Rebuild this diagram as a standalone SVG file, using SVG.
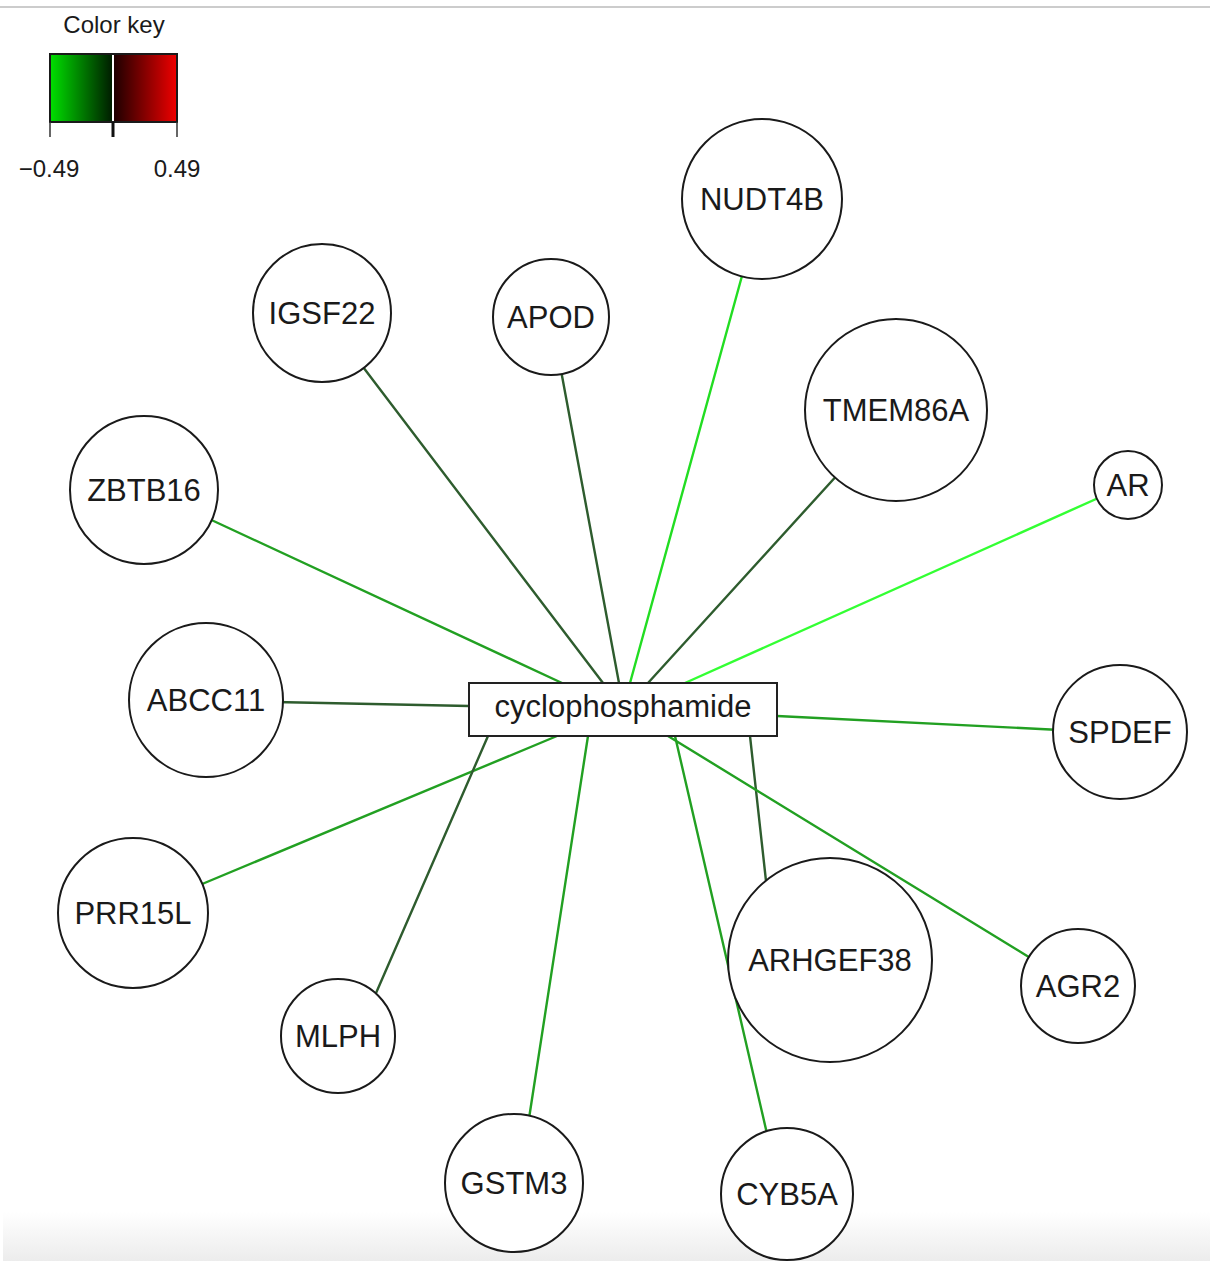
<svg xmlns="http://www.w3.org/2000/svg" width="1210" height="1261" viewBox="0 0 1210 1261">
<defs>
<linearGradient id="gk" x1="0" y1="0" x2="1" y2="0">
<stop offset="0" stop-color="#00e000"/>
<stop offset="1" stop-color="#001a00"/>
</linearGradient>
<linearGradient id="rk" x1="0" y1="0" x2="1" y2="0">
<stop offset="0" stop-color="#1a0000"/>
<stop offset="1" stop-color="#f00000"/>
</linearGradient>
<linearGradient id="bot" x1="0" y1="0" x2="0" y2="1">
<stop offset="0" stop-color="#ffffff"/>
<stop offset="1" stop-color="#ececec"/>
</linearGradient>
<style>
.n circle{fill:#fff;stroke:#1a1a1a;stroke-width:2}
.n text,.t{font-family:"Liberation Sans",Arial,sans-serif;font-size:31px;fill:#1a1a1a;text-anchor:middle}
.e line{stroke-width:2.4;stroke-linecap:round}
.dk{stroke:#2e5c2e}
.md{stroke:#22a022}
.br{stroke:#22dd22}
.vb{stroke:#33ff33}
.k{font-family:"Liberation Sans",Arial,sans-serif;font-size:24px;fill:#1a1a1a;text-anchor:middle}
</style>
</defs>
<rect width="1210" height="1261" fill="#fff"/>
<rect x="3" y="1212" width="1207" height="49" fill="url(#bot)"/>
<line x1="0" y1="7" x2="1210" y2="7" stroke="#cccccc" stroke-width="2"/>

<g id="colorkey">
<text class="k" x="114" y="33">Color key</text>
<rect x="50" y="54" width="63" height="68" fill="url(#gk)"/>
<rect x="113" y="54" width="64" height="68" fill="url(#rk)"/>
<line x1="113" y1="54" x2="113" y2="122" stroke="#ffffff" stroke-width="2"/>
<rect x="50" y="54" width="127" height="68" fill="none" stroke="#1a1a1a" stroke-width="2"/>
<line x1="50" y1="122" x2="50" y2="137" stroke="#333" stroke-width="1.5"/>
<line x1="113" y1="122" x2="113" y2="137" stroke="#111" stroke-width="3"/>
<line x1="177" y1="122" x2="177" y2="137" stroke="#333" stroke-width="1.5"/>
<text class="k" x="49" y="177">−0.49</text>
<text class="k" x="177" y="177">0.49</text>
</g>

<g id="edges" class="e">
<line class="br" x1="630" y1="683" x2="745" y2="265"/>
<line class="dk" x1="603" y1="683" x2="360" y2="363"/>
<line class="dk" x1="619" y1="683" x2="560" y2="365"/>
<line class="dk" stroke="#2a502a" x1="648" y1="683" x2="840" y2="472"/>
<line class="vb" x1="685" y1="683" x2="1105" y2="495"/>
<line class="md" x1="562" y1="683" x2="205" y2="517"/>
<line class="dk" stroke="#224422" x1="469" y1="706" x2="275" y2="702"/>
<line class="md" x1="777" y1="716" x2="1060" y2="730"/>
<line class="md" x1="557" y1="736" x2="195" y2="887"/>
<line class="dk" x1="488" y1="736" x2="373" y2="1000"/>
<line class="md" x1="588" y1="736" x2="528" y2="1125"/>
<line class="md" x1="675" y1="736" x2="768" y2="1138"/>
<line class="dk" x1="750" y1="736" x2="767" y2="890"/>
<line class="md" x1="668" y1="736" x2="1032" y2="959"/>
</g>

<g id="cyclophosphamide">
<rect x="469" y="683" width="308" height="53" fill="#fff" stroke="#222" stroke-width="2"/>
<text class="t" x="623" y="717" font-size="30">cyclophosphamide</text>
</g>

<g id="NUDT4B" class="n"><circle cx="762" cy="199" r="80"/><text x="762" y="210">NUDT4B</text></g>
<g id="IGSF22" class="n"><circle cx="322" cy="313" r="69"/><text x="322" y="324">IGSF22</text></g>
<g id="APOD" class="n"><circle cx="551" cy="317" r="58"/><text x="551" y="328">APOD</text></g>
<g id="TMEM86A" class="n"><circle cx="896" cy="410" r="91"/><text x="896" y="421">TMEM86A</text></g>
<g id="AR" class="n"><circle cx="1128" cy="485" r="34"/><text x="1128" y="496">AR</text></g>
<g id="ZBTB16" class="n"><circle cx="144" cy="490" r="74"/><text x="144" y="501">ZBTB16</text></g>
<g id="ABCC11" class="n"><circle cx="206" cy="700" r="77"/><text x="206" y="711">ABCC11</text></g>
<g id="SPDEF" class="n"><circle cx="1120" cy="732" r="67"/><text x="1120" y="743">SPDEF</text></g>
<g id="PRR15L" class="n"><circle cx="133" cy="913" r="75"/><text x="133" y="924">PRR15L</text></g>
<g id="MLPH" class="n"><circle cx="338" cy="1036" r="57"/><text x="338" y="1047">MLPH</text></g>
<g id="ARHGEF38" class="n"><circle cx="830" cy="960" r="102"/><text x="830" y="971">ARHGEF38</text></g>
<g id="AGR2" class="n"><circle cx="1078" cy="986" r="57"/><text x="1078" y="997">AGR2</text></g>
<g id="GSTM3" class="n"><circle cx="514" cy="1183" r="69"/><text x="514" y="1194">GSTM3</text></g>
<g id="CYB5A" class="n"><circle cx="787" cy="1194" r="66"/><text x="787" y="1205">CYB5A</text></g>
</svg>
